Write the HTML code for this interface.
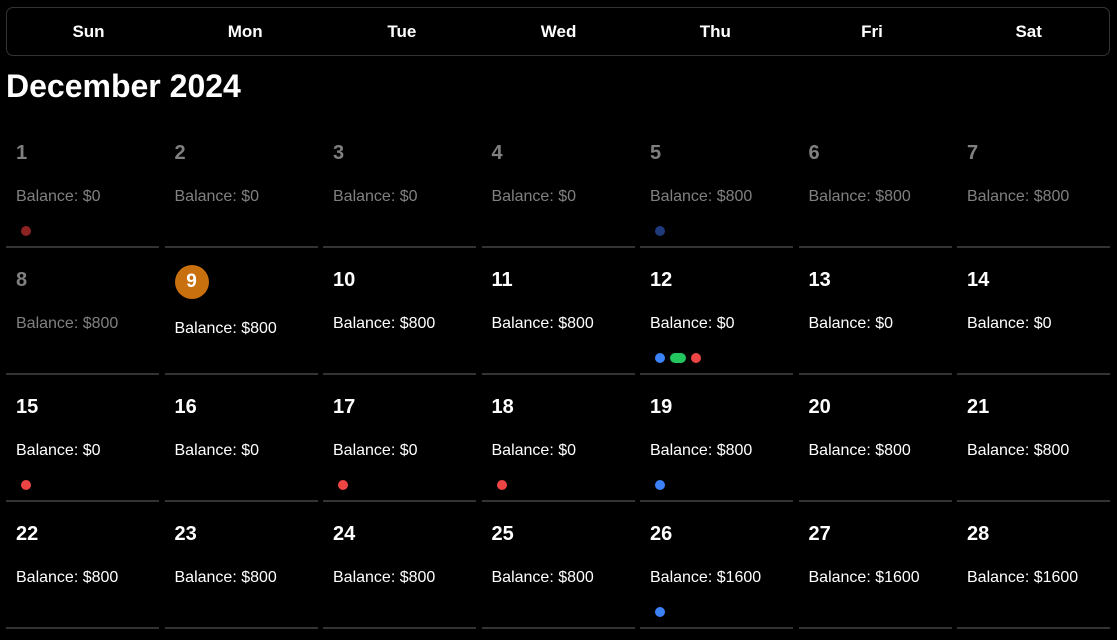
<!DOCTYPE html>
<html><head><meta charset="utf-8"><style>
html,body{margin:0;padding:0;background:#000;width:1117px;height:640px;overflow:hidden;font-family:"Liberation Sans",Arial,sans-serif;color:#fff}
#hdr{position:absolute;left:6px;top:7px;width:1102px;height:47px;border:1px solid #333;border-radius:7px}
.dn{position:absolute;top:0;height:47px;line-height:47px;text-align:center;font-weight:bold;font-size:17px;width:157px}
#title{position:absolute;left:6px;top:67px;font-size:32px;font-weight:bold;margin:0;line-height:38px}
.cell{position:absolute;width:153px;height:125px;border-bottom:2px solid #333}
.num{position:absolute;left:10px;font-size:20px;font-weight:bold;line-height:22px}
.bal{position:absolute;left:10px;font-size:16px;line-height:18px}
.past{color:#808080}
.today{position:absolute;left:10px;width:34px;height:34px;border-radius:50%;background:#c8700e;text-align:center;line-height:34px;font-weight:bold;font-size:19px}
.dots{position:absolute;left:15px;display:flex;gap:5px}
.dot{width:10px;height:10px;border-radius:5px}
</style></head><body>
<div id="hdr"></div>
<h1 id="title">December 2024</h1>
<div id="grid"></div>
<script>
const dayNames=["Sun","Mon","Tue","Wed","Thu","Fri","Sat"];
const balances=[0,0,0,0,800,800,800,800,800,800,800,0,0,0,0,0,0,0,800,800,800,800,800,800,800,1600,1600,1600];
const dayDots={1:["#8b2323"],5:["#1e3a7a"],12:["#3b82f6","g#22c55e","#ef4444"],15:["#ef4444"],17:["#ef4444"],18:["#ef4444"],19:["#3b82f6"],26:["#3b82f6"]};
const today=9;
const hdr=document.getElementById('hdr');
dayNames.forEach((n,i)=>{const d=document.createElement('div');d.className='dn';d.style.left=(3+i*156.7)+'px';d.textContent=n;


hdr.appendChild(d);});
const grid=document.getElementById('grid');
balances.forEach((b,i)=>{const day=i+1;const col=i%7,row=Math.floor(i/7);
const L=246+row*127;const c=document.createElement('div');c.className='cell';
c.style.left=(6+col*158.5)+'px';c.style.top=(L-125)+'px';


const past=day<today;
let html='';
if(day===today){html+='<div class="today" style="top:17px">'+day+'</div>';}
else html+='<div class="num'+(past?' past':'')+'" style="top:21px">'+day+'</div>';
const by=day===today?72:67;
html+='<div class="bal'+(past?' past':'')+'" style="top:'+by+'px">Balance: $'+b+'</div>';
if(dayDots[day]){html+='<div class="dots" style="top:105px">';
dayDots[day].forEach(cl=>{const g=cl[0]==='g';const col2=g?cl.slice(1):cl;html+='<div class="dot" style="background:'+col2+';width:'+(g?16:10)+'px"></div>';});
html+='</div>';}
c.innerHTML=html;grid.appendChild(c);});
</script>
</body></html>
